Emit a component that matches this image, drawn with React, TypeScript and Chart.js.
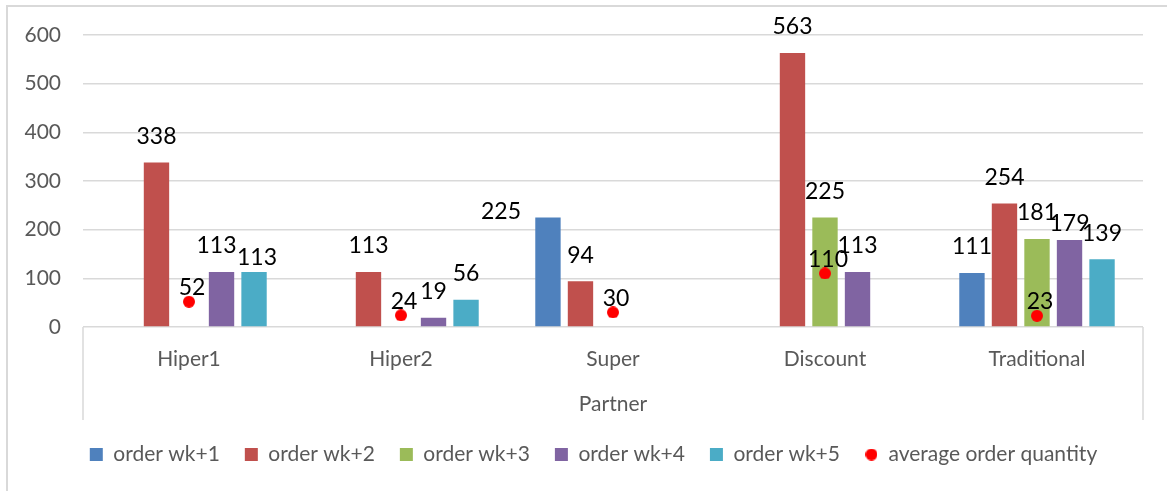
import React, { useEffect, useRef } from 'react';
import { Chart, registerables } from 'chart.js';

Chart.register(...registerables);

const FONT = 'Lato, "Open Sans", sans-serif';

// Partners along the x axis
const categories = ['Hiper1', 'Hiper2', 'Super', 'Discount', 'Traditional'];

// Weekly order forecasts per partner (null = no order that week)
const orderWk1: (number | null)[] = [null, null, 225, null, 111];
const orderWk2: (number | null)[] = [338, 113, 94, 563, 254];
const orderWk3: (number | null)[] = [null, null, null, 225, 181];
const orderWk4: (number | null)[] = [113, 19, null, 113, 179];
const orderWk5: (number | null)[] = [113, 56, null, null, 139];
const averageOrderQuantity: number[] = [52, 24, 30, 110, 23];

// Value axis ticks
const yMin = 0;
const yMax = 600;
const yStep = 100;

const seriesNames = ['order wk+1', 'order wk+2', 'order wk+3', 'order wk+4', 'order wk+5'];
const seriesValues = [orderWk1, orderWk2, orderWk3, orderWk4, orderWk5];
const seriesColors = ['#4f81bd', '#c0504d', '#9bbb59', '#8064a2', '#4bacc6'];

// Hand-placed data labels that were moved away from their default spot: [dx, dy]
const labelNudges: Record<string, [number, number]> = {
  'order wk+4|Hiper1': [-5, 0],
  'order wk+5|Hiper1': [3, 12],
  'order wk+1|Super': [-47, 20],
  'order wk+4|Traditional': [0, 10],
};

function makeDot(): HTMLCanvasElement {
  const c = document.createElement('canvas');
  c.width = 12;
  c.height = 12;
  const g = c.getContext('2d')!;
  g.fillStyle = '#ff0000';
  g.beginPath();
  g.arc(6, 6, 6, 0, Math.PI * 2);
  g.fill();
  return c;
}

const valueLabels = {
  id: 'valueLabels',
  afterDatasetsDraw(chart: any) {
    const ctx = chart.ctx as CanvasRenderingContext2D;
    ctx.save();
    ctx.font = `23px ${FONT}`;
    ctx.fillStyle = '#000000';
    ctx.textAlign = 'center';
    ctx.textBaseline = 'middle';
    chart.data.datasets.forEach((ds: any, di: number) => {
      const meta = chart.getDatasetMeta(di);
      meta.data.forEach((el: any, i: number) => {
        const v = ds.data[i];
        if (v == null) return;
        const isPoint = ds.type === 'line';
        const nudge = labelNudges[`${ds.label}|${categories[i]}`] ?? [0, 0];
        const offset = isPoint ? 14 : 26;
        const x = el.x + nudge[0] + (isPoint ? 3 : 0);
        const y = el.y - offset + nudge[1];
        ctx.fillText(String(v), x, y);
      });
    });
    ctx.restore();
  },
};

// Legend sits centred under the whole frame rather than under the plot box
const legendShift = {
  id: 'legendShift',
  afterLayout(chart: any) {
    if (chart.legend) {
      chart.legend.left += 22;
      chart.legend.right += 22;
    }
  },
};

const frame = {
  id: 'frame',
  beforeDraw(chart: any) {
    const ctx = chart.ctx as CanvasRenderingContext2D;
    ctx.save();
    ctx.fillStyle = '#ffffff';
    ctx.fillRect(0, 0, chart.width, chart.height);
    ctx.strokeStyle = '#d9d9d9';
    ctx.lineWidth = 2;
    ctx.beginPath();
    ctx.moveTo(7, chart.height);
    ctx.lineTo(7, 6);
    ctx.lineTo(chart.width, 6);
    ctx.stroke();
    // category axis box sides
    const { left, right, bottom } = chart.chartArea;
    ctx.lineWidth = 1.5;
    ctx.beginPath();
    ctx.moveTo(left, bottom);
    ctx.lineTo(left, bottom + 93);
    ctx.moveTo(right, bottom);
    ctx.lineTo(right, bottom + 93);
    ctx.stroke();
    ctx.restore();
  },
};

export default function App() {
  const ref = useRef<HTMLCanvasElement | null>(null);

  useEffect(() => {
    if (!ref.current) return;
    const dot = makeDot();
    const datasets: any[] = seriesNames.map((name, k) => ({
      type: 'bar',
      label: name,
      data: seriesValues[k],
      backgroundColor: seriesColors[k],
      borderWidth: 0,
      pointStyle: 'rect',
      barPercentage: 0.78,
      categoryPercentage: 0.767,
    }));
    datasets.push({
      type: 'line',
      label: 'average order quantity',
      data: averageOrderQuantity,
      showLine: false,
      pointStyle: dot,
      backgroundColor: '#ff0000',
      borderColor: '#ff0000',
      order: -1,
    });

    const chart = new Chart(ref.current, {
      type: 'bar',
      data: { labels: categories, datasets },
      options: {
        responsive: false,
        animation: false,
        devicePixelRatio: 1,
        layout: { padding: { left: 0, right: 24, top: 35, bottom: 16 } },
        plugins: {
          tooltip: { enabled: false },
          legend: {
            position: 'bottom',
            labels: {
              usePointStyle: true,
              boxWidth: 13,
              boxHeight: 13,
              padding: 25,
              color: '#595959',
              font: { family: FONT, size: 21 },
              sort: (a: any, b: any) => a.datasetIndex - b.datasetIndex,
            },
          },
        },
        scales: {
          x: {
            grid: { display: false },
            border: { display: false },
            ticks: { color: '#595959', font: { family: FONT, size: 21 }, padding: 12 },
            title: {
              display: true,
              text: 'Partner',
              color: '#595959',
              font: { family: FONT, size: 21 },
              padding: { top: 0, bottom: 2 },
            },
            afterFit: (s: any) => {
              s.height = 92;
            },
          },
          y: {
            min: yMin,
            max: yMax,
            ticks: { stepSize: yStep, color: '#595959', font: { family: FONT, size: 21 }, padding: 22 },
            grid: { color: '#d9d9d9', lineWidth: 1.5, drawTicks: false },
            border: { display: false },
            afterFit: (s: any) => {
              s.width = 83;
            },
          },
        },
      },
      plugins: [frame, legendShift, valueLabels],
    });
    return () => chart.destroy();
  }, []);

  return (
    <div style={{ position: 'fixed', left: 0, top: 0, width: 1167, height: 491, background: '#fff' }}>
      <canvas ref={ref} width={1167} height={491} />
    </div>
  );
}
